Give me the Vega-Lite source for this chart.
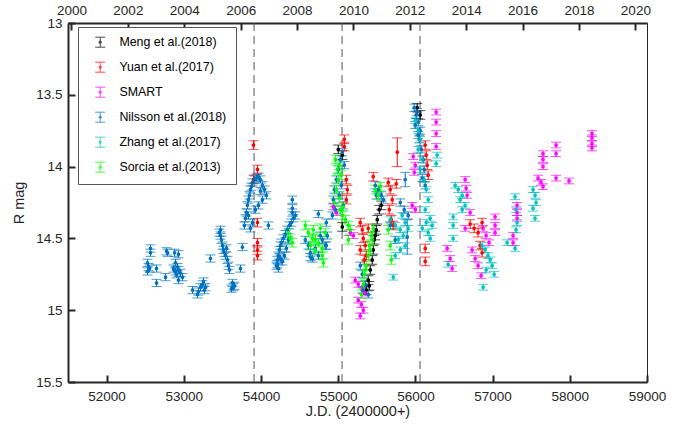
{
"$schema": "https://vega.github.io/schema/vega-lite/v6.json",
"width": 579,
"height": 359,
"autosize": {"type": "none"},
"padding": {"left": 68, "top": 23, "right": 47, "bottom": 47},
"background": "white",
"config": {
 "font": "Liberation Sans",
 "view": {"stroke": "#262626", "strokeWidth": 1},
 "axis": {"domainColor": "#262626", "domainWidth": 2, "tickColor": "#262626", "tickWidth": 2, "labelColor": "#262626", "titleColor": "#262626", "grid": false, "labelFontSize": 13.5, "titleFontSize": 14.5, "titleFontWeight": "normal", "labelFlush": false, "labelOverlap": false},
 "legend": {"title": null, "orient": "none", "legendX": 10, "legendY": 4, "symbolType": "M-1,-1H1M0,-1V1M-1,1H1M0.25,0A0.25,0.25,0,1,1,-0.25,0A0.25,0.25,0,1,1,0.25,0", "symbolSize": 100, "symbolStrokeWidth": 1, "labelFontSize": 12.4, "labelColor": "#000000", "strokeColor": "#555555", "fillColor": "#ffffff", "padding": 9, "rowPadding": 10, "labelOffset": 13, "symbolOffset": 7}
},
"datasets": {
 "vlines": [{"jd": 53910}, {"jd": 55050}, {"jd": 56060}],
 "obs": [
{"s":"Meng et al.(2018)","jd":55001,"m":13.88,"e":0.03},
{"s":"Meng et al.(2018)","jd":55053,"m":13.92,"e":0.03},
{"s":"Meng et al.(2018)","jd":55053,"m":14.42,"e":0.03},
{"s":"Meng et al.(2018)","jd":55363,"m":14.86,"e":0.03},
{"s":"Meng et al.(2018)","jd":55389,"m":14.79,"e":0.03},
{"s":"Meng et al.(2018)","jd":55415,"m":14.72,"e":0.03},
{"s":"Meng et al.(2018)","jd":55441,"m":14.65,"e":0.03},
{"s":"Meng et al.(2018)","jd":55454,"m":14.58,"e":0.03},
{"s":"Meng et al.(2018)","jd":55467,"m":14.51,"e":0.03},
{"s":"Meng et al.(2018)","jd":55493,"m":14.44,"e":0.03},
{"s":"Meng et al.(2018)","jd":55506,"m":14.37,"e":0.03},
{"s":"Meng et al.(2018)","jd":55532,"m":14.30,"e":0.03},
{"s":"Meng et al.(2018)","jd":55558,"m":14.27,"e":0.03},
{"s":"Meng et al.(2018)","jd":55402,"m":14.83,"e":0.03},
{"s":"Meng et al.(2018)","jd":55480,"m":14.48,"e":0.03},
{"s":"Meng et al.(2018)","jd":56023,"m":13.59,"e":0.03},
{"s":"Meng et al.(2018)","jd":56062,"m":13.64,"e":0.03},
{"s":"Yuan et al.(2017)","jd":53902,"m":13.85,"e":0.03},
{"s":"Yuan et al.(2017)","jd":53954,"m":14.02,"e":0.03},
{"s":"Yuan et al.(2017)","jd":53902,"m":14.09,"e":0.03},
{"s":"Yuan et al.(2017)","jd":53954,"m":14.39,"e":0.03},
{"s":"Yuan et al.(2017)","jd":53954,"m":14.53,"e":0.03},
{"s":"Yuan et al.(2017)","jd":53954,"m":14.58,"e":0.03},
{"s":"Yuan et al.(2017)","jd":53954,"m":14.62,"e":0.03},
{"s":"Yuan et al.(2017)","jd":55079,"m":13.81,"e":0.03},
{"s":"Yuan et al.(2017)","jd":55079,"m":13.86,"e":0.03},
{"s":"Yuan et al.(2017)","jd":55105,"m":14.09,"e":0.03},
{"s":"Yuan et al.(2017)","jd":55118,"m":14.16,"e":0.03},
{"s":"Yuan et al.(2017)","jd":55105,"m":14.23,"e":0.03},
{"s":"Yuan et al.(2017)","jd":55454,"m":14.07,"e":0.03},
{"s":"Yuan et al.(2017)","jd":55286,"m":14.39,"e":0.03},
{"s":"Yuan et al.(2017)","jd":55312,"m":14.44,"e":0.03},
{"s":"Yuan et al.(2017)","jd":55325,"m":14.50,"e":0.03},
{"s":"Yuan et al.(2017)","jd":55350,"m":14.55,"e":0.03},
{"s":"Yuan et al.(2017)","jd":55286,"m":14.58,"e":0.03},
{"s":"Yuan et al.(2017)","jd":55363,"m":14.62,"e":0.03},
{"s":"Yuan et al.(2017)","jd":55338,"m":14.65,"e":0.03},
{"s":"Yuan et al.(2017)","jd":55389,"m":14.43,"e":0.03},
{"s":"Yuan et al.(2017)","jd":55648,"m":14.11,"e":0.03},
{"s":"Yuan et al.(2017)","jd":55674,"m":14.16,"e":0.03},
{"s":"Yuan et al.(2017)","jd":55700,"m":14.23,"e":0.03},
{"s":"Yuan et al.(2017)","jd":55661,"m":14.30,"e":0.03},
{"s":"Yuan et al.(2017)","jd":55687,"m":14.37,"e":0.03},
{"s":"Yuan et al.(2017)","jd":55713,"m":14.41,"e":0.03},
{"s":"Yuan et al.(2017)","jd":55752,"m":14.12,"e":0.03},
{"s":"Yuan et al.(2017)","jd":55765,"m":13.90,"e":0.1},
{"s":"Yuan et al.(2017)","jd":56127,"m":13.85,"e":0.03},
{"s":"Yuan et al.(2017)","jd":56140,"m":13.92,"e":0.03},
{"s":"Yuan et al.(2017)","jd":56153,"m":13.99,"e":0.03},
{"s":"Yuan et al.(2017)","jd":56166,"m":14.06,"e":0.03},
{"s":"Yuan et al.(2017)","jd":56127,"m":14.57,"e":0.03},
{"s":"Yuan et al.(2017)","jd":56127,"m":14.66,"e":0.03},
{"s":"Yuan et al.(2017)","jd":56709,"m":14.40,"e":0.03},
{"s":"Yuan et al.(2017)","jd":56761,"m":14.43,"e":0.03},
{"s":"Yuan et al.(2017)","jd":56812,"m":14.46,"e":0.03},
{"s":"Yuan et al.(2017)","jd":56864,"m":14.39,"e":0.03},
{"s":"Yuan et al.(2017)","jd":56838,"m":14.55,"e":0.03},
{"s":"Yuan et al.(2017)","jd":56864,"m":14.60,"e":0.03},
{"s":"SMART","jd":54937,"m":14.28,"e":0.02},
{"s":"SMART","jd":54976,"m":14.32,"e":0.02},
{"s":"SMART","jd":55157,"m":14.46,"e":0.02},
{"s":"SMART","jd":55196,"m":14.48,"e":0.02},
{"s":"SMART","jd":55221,"m":14.79,"e":0.02},
{"s":"SMART","jd":55260,"m":14.82,"e":0.02},
{"s":"SMART","jd":55312,"m":14.86,"e":0.02},
{"s":"SMART","jd":55350,"m":14.88,"e":0.02},
{"s":"SMART","jd":55260,"m":14.93,"e":0.02},
{"s":"SMART","jd":55299,"m":14.96,"e":0.02},
{"s":"SMART","jd":55325,"m":15.00,"e":0.02},
{"s":"SMART","jd":55286,"m":15.04,"e":0.02},
{"s":"SMART","jd":55959,"m":14.27,"e":0.02},
{"s":"SMART","jd":55998,"m":14.30,"e":0.02},
{"s":"SMART","jd":55972,"m":13.93,"e":0.02},
{"s":"SMART","jd":55998,"m":13.99,"e":0.02},
{"s":"SMART","jd":55985,"m":14.04,"e":0.02},
{"s":"SMART","jd":56269,"m":13.62,"e":0.02},
{"s":"SMART","jd":56269,"m":13.69,"e":0.02},
{"s":"SMART","jd":56269,"m":13.77,"e":0.02},
{"s":"SMART","jd":56269,"m":13.86,"e":0.02},
{"s":"SMART","jd":56644,"m":14.09,"e":0.02},
{"s":"SMART","jd":56657,"m":14.15,"e":0.02},
{"s":"SMART","jd":56670,"m":14.20,"e":0.02},
{"s":"SMART","jd":56709,"m":14.32,"e":0.02},
{"s":"SMART","jd":56411,"m":14.57,"e":0.02},
{"s":"SMART","jd":56450,"m":14.64,"e":0.02},
{"s":"SMART","jd":56476,"m":14.71,"e":0.02},
{"s":"SMART","jd":56644,"m":14.43,"e":0.02},
{"s":"SMART","jd":56877,"m":14.43,"e":0.02},
{"s":"SMART","jd":56916,"m":14.48,"e":0.02},
{"s":"SMART","jd":56954,"m":14.53,"e":0.02},
{"s":"SMART","jd":57032,"m":14.35,"e":0.02},
{"s":"SMART","jd":57032,"m":14.41,"e":0.02},
{"s":"SMART","jd":57032,"m":14.46,"e":0.02},
{"s":"SMART","jd":56735,"m":14.58,"e":0.02},
{"s":"SMART","jd":56774,"m":14.64,"e":0.02},
{"s":"SMART","jd":56812,"m":14.69,"e":0.02},
{"s":"SMART","jd":56851,"m":14.76,"e":0.02},
{"s":"SMART","jd":57317,"m":14.27,"e":0.02},
{"s":"SMART","jd":57317,"m":14.32,"e":0.02},
{"s":"SMART","jd":57317,"m":14.36,"e":0.02},
{"s":"SMART","jd":57265,"m":14.48,"e":0.02},
{"s":"SMART","jd":57265,"m":14.53,"e":0.02},
{"s":"SMART","jd":57589,"m":14.08,"e":0.02},
{"s":"SMART","jd":57627,"m":14.11,"e":0.02},
{"s":"SMART","jd":57653,"m":14.14,"e":0.02},
{"s":"SMART","jd":57653,"m":13.91,"e":0.02},
{"s":"SMART","jd":57653,"m":13.95,"e":0.02},
{"s":"SMART","jd":57653,"m":14.00,"e":0.02},
{"s":"SMART","jd":57822,"m":13.85,"e":0.02},
{"s":"SMART","jd":57822,"m":13.91,"e":0.02},
{"s":"SMART","jd":57822,"m":14.08,"e":0.02},
{"s":"SMART","jd":57990,"m":14.10,"e":0.02},
{"s":"SMART","jd":58287,"m":13.77,"e":0.02},
{"s":"SMART","jd":58287,"m":13.80,"e":0.02},
{"s":"SMART","jd":58287,"m":13.84,"e":0.02},
{"s":"SMART","jd":58287,"m":13.87,"e":0.02},
{"s":"Nilsson et al.(2018)","jd":52530,"m":14.67,"e":0.025},
{"s":"Nilsson et al.(2018)","jd":52543,"m":14.70,"e":0.025},
{"s":"Nilsson et al.(2018)","jd":52530,"m":14.73,"e":0.025},
{"s":"Nilsson et al.(2018)","jd":52556,"m":14.71,"e":0.025},
{"s":"Nilsson et al.(2018)","jd":52569,"m":14.57,"e":0.025},
{"s":"Nilsson et al.(2018)","jd":52569,"m":14.60,"e":0.025},
{"s":"Nilsson et al.(2018)","jd":52647,"m":14.71,"e":0.025},
{"s":"Nilsson et al.(2018)","jd":52647,"m":14.81,"e":0.025},
{"s":"Nilsson et al.(2018)","jd":52763,"m":14.77,"e":0.025},
{"s":"Nilsson et al.(2018)","jd":52776,"m":14.59,"e":0.025},
{"s":"Nilsson et al.(2018)","jd":52790,"m":14.60,"e":0.025},
{"s":"Nilsson et al.(2018)","jd":52880,"m":14.60,"e":0.025},
{"s":"Nilsson et al.(2018)","jd":52931,"m":14.61,"e":0.025},
{"s":"Nilsson et al.(2018)","jd":52893,"m":14.67,"e":0.025},
{"s":"Nilsson et al.(2018)","jd":52919,"m":14.70,"e":0.025},
{"s":"Nilsson et al.(2018)","jd":52931,"m":14.72,"e":0.025},
{"s":"Nilsson et al.(2018)","jd":52893,"m":14.73,"e":0.025},
{"s":"Nilsson et al.(2018)","jd":52957,"m":14.74,"e":0.025},
{"s":"Nilsson et al.(2018)","jd":52983,"m":14.77,"e":0.025},
{"s":"Nilsson et al.(2018)","jd":52931,"m":14.79,"e":0.025},
{"s":"Nilsson et al.(2018)","jd":52867,"m":14.71,"e":0.025},
{"s":"Nilsson et al.(2018)","jd":52905,"m":14.75,"e":0.025},
{"s":"Nilsson et al.(2018)","jd":53113,"m":14.86,"e":0.025},
{"s":"Nilsson et al.(2018)","jd":53255,"m":14.80,"e":0.025},
{"s":"Nilsson et al.(2018)","jd":53242,"m":14.82,"e":0.025},
{"s":"Nilsson et al.(2018)","jd":53216,"m":14.84,"e":0.025},
{"s":"Nilsson et al.(2018)","jd":53190,"m":14.87,"e":0.025},
{"s":"Nilsson et al.(2018)","jd":53177,"m":14.89,"e":0.025},
{"s":"Nilsson et al.(2018)","jd":53281,"m":14.84,"e":0.025},
{"s":"Nilsson et al.(2018)","jd":53268,"m":14.86,"e":0.025},
{"s":"Nilsson et al.(2018)","jd":53345,"m":14.64,"e":0.025},
{"s":"Nilsson et al.(2018)","jd":53475,"m":14.44,"e":0.025},
{"s":"Nilsson et al.(2018)","jd":53462,"m":14.46,"e":0.025},
{"s":"Nilsson et al.(2018)","jd":53475,"m":14.48,"e":0.025},
{"s":"Nilsson et al.(2018)","jd":53488,"m":14.51,"e":0.025},
{"s":"Nilsson et al.(2018)","jd":53501,"m":14.55,"e":0.025},
{"s":"Nilsson et al.(2018)","jd":53514,"m":14.58,"e":0.025},
{"s":"Nilsson et al.(2018)","jd":53540,"m":14.62,"e":0.025},
{"s":"Nilsson et al.(2018)","jd":53565,"m":14.65,"e":0.025},
{"s":"Nilsson et al.(2018)","jd":53578,"m":14.69,"e":0.025},
{"s":"Nilsson et al.(2018)","jd":53591,"m":14.72,"e":0.025},
{"s":"Nilsson et al.(2018)","jd":53553,"m":14.57,"e":0.025},
{"s":"Nilsson et al.(2018)","jd":53527,"m":14.60,"e":0.025},
{"s":"Nilsson et al.(2018)","jd":53630,"m":14.81,"e":0.025},
{"s":"Nilsson et al.(2018)","jd":53643,"m":14.84,"e":0.025},
{"s":"Nilsson et al.(2018)","jd":53617,"m":14.85,"e":0.025},
{"s":"Nilsson et al.(2018)","jd":53656,"m":14.83,"e":0.025},
{"s":"Nilsson et al.(2018)","jd":53759,"m":14.56,"e":0.025},
{"s":"Nilsson et al.(2018)","jd":53734,"m":14.71,"e":0.025},
{"s":"Nilsson et al.(2018)","jd":53785,"m":14.41,"e":0.025},
{"s":"Nilsson et al.(2018)","jd":53798,"m":14.36,"e":0.025},
{"s":"Nilsson et al.(2018)","jd":53811,"m":14.32,"e":0.025},
{"s":"Nilsson et al.(2018)","jd":53824,"m":14.27,"e":0.025},
{"s":"Nilsson et al.(2018)","jd":53837,"m":14.23,"e":0.025},
{"s":"Nilsson et al.(2018)","jd":53850,"m":14.20,"e":0.025},
{"s":"Nilsson et al.(2018)","jd":53863,"m":14.16,"e":0.025},
{"s":"Nilsson et al.(2018)","jd":53876,"m":14.14,"e":0.025},
{"s":"Nilsson et al.(2018)","jd":53889,"m":14.11,"e":0.025},
{"s":"Nilsson et al.(2018)","jd":53863,"m":14.43,"e":0.025},
{"s":"Nilsson et al.(2018)","jd":53889,"m":14.39,"e":0.025},
{"s":"Nilsson et al.(2018)","jd":53837,"m":14.34,"e":0.025},
{"s":"Nilsson et al.(2018)","jd":53915,"m":14.09,"e":0.025},
{"s":"Nilsson et al.(2018)","jd":53941,"m":14.08,"e":0.025},
{"s":"Nilsson et al.(2018)","jd":53966,"m":14.07,"e":0.025},
{"s":"Nilsson et al.(2018)","jd":53992,"m":14.09,"e":0.025},
{"s":"Nilsson et al.(2018)","jd":54018,"m":14.13,"e":0.025},
{"s":"Nilsson et al.(2018)","jd":54044,"m":14.16,"e":0.025},
{"s":"Nilsson et al.(2018)","jd":54070,"m":14.20,"e":0.025},
{"s":"Nilsson et al.(2018)","jd":54018,"m":14.23,"e":0.025},
{"s":"Nilsson et al.(2018)","jd":53966,"m":14.27,"e":0.025},
{"s":"Nilsson et al.(2018)","jd":53928,"m":14.30,"e":0.025},
{"s":"Nilsson et al.(2018)","jd":53992,"m":14.17,"e":0.025},
{"s":"Nilsson et al.(2018)","jd":54096,"m":14.41,"e":0.025},
{"s":"Nilsson et al.(2018)","jd":54199,"m":14.69,"e":0.025},
{"s":"Nilsson et al.(2018)","jd":54212,"m":14.65,"e":0.025},
{"s":"Nilsson et al.(2018)","jd":54225,"m":14.62,"e":0.025},
{"s":"Nilsson et al.(2018)","jd":54238,"m":14.58,"e":0.025},
{"s":"Nilsson et al.(2018)","jd":54251,"m":14.55,"e":0.025},
{"s":"Nilsson et al.(2018)","jd":54264,"m":14.53,"e":0.025},
{"s":"Nilsson et al.(2018)","jd":54290,"m":14.50,"e":0.025},
{"s":"Nilsson et al.(2018)","jd":54316,"m":14.47,"e":0.025},
{"s":"Nilsson et al.(2018)","jd":54342,"m":14.44,"e":0.025},
{"s":"Nilsson et al.(2018)","jd":54367,"m":14.41,"e":0.025},
{"s":"Nilsson et al.(2018)","jd":54393,"m":14.39,"e":0.025},
{"s":"Nilsson et al.(2018)","jd":54419,"m":14.36,"e":0.025},
{"s":"Nilsson et al.(2018)","jd":54445,"m":14.34,"e":0.025},
{"s":"Nilsson et al.(2018)","jd":54277,"m":14.66,"e":0.025},
{"s":"Nilsson et al.(2018)","jd":54303,"m":14.62,"e":0.025},
{"s":"Nilsson et al.(2018)","jd":54329,"m":14.57,"e":0.025},
{"s":"Nilsson et al.(2018)","jd":54355,"m":14.51,"e":0.025},
{"s":"Nilsson et al.(2018)","jd":54225,"m":14.71,"e":0.025},
{"s":"Nilsson et al.(2018)","jd":54251,"m":14.64,"e":0.025},
{"s":"Nilsson et al.(2018)","jd":54212,"m":14.68,"e":0.025},
{"s":"Nilsson et al.(2018)","jd":54406,"m":14.23,"e":0.025},
{"s":"Nilsson et al.(2018)","jd":54406,"m":14.29,"e":0.025},
{"s":"Nilsson et al.(2018)","jd":54406,"m":14.32,"e":0.025},
{"s":"Nilsson et al.(2018)","jd":54574,"m":14.51,"e":0.025},
{"s":"Nilsson et al.(2018)","jd":54639,"m":14.60,"e":0.025},
{"s":"Nilsson et al.(2018)","jd":54665,"m":14.64,"e":0.025},
{"s":"Nilsson et al.(2018)","jd":54743,"m":14.62,"e":0.025},
{"s":"Nilsson et al.(2018)","jd":54833,"m":14.55,"e":0.025},
{"s":"Nilsson et al.(2018)","jd":54768,"m":14.48,"e":0.025},
{"s":"Nilsson et al.(2018)","jd":54743,"m":14.33,"e":0.025},
{"s":"Nilsson et al.(2018)","jd":54639,"m":14.63,"e":0.025},
{"s":"Nilsson et al.(2018)","jd":54613,"m":14.55,"e":0.025},
{"s":"Nilsson et al.(2018)","jd":54704,"m":14.57,"e":0.025},
{"s":"Nilsson et al.(2018)","jd":54794,"m":14.51,"e":0.025},
{"s":"Nilsson et al.(2018)","jd":54846,"m":14.39,"e":0.025},
{"s":"Nilsson et al.(2018)","jd":54859,"m":14.48,"e":0.025},
{"s":"Nilsson et al.(2018)","jd":54846,"m":14.55,"e":0.025},
{"s":"Nilsson et al.(2018)","jd":54937,"m":14.23,"e":0.025},
{"s":"Nilsson et al.(2018)","jd":54950,"m":14.16,"e":0.025},
{"s":"Nilsson et al.(2018)","jd":54976,"m":14.09,"e":0.025},
{"s":"Nilsson et al.(2018)","jd":55001,"m":14.02,"e":0.025},
{"s":"Nilsson et al.(2018)","jd":55027,"m":13.95,"e":0.025},
{"s":"Nilsson et al.(2018)","jd":55053,"m":13.90,"e":0.025},
{"s":"Nilsson et al.(2018)","jd":55079,"m":13.99,"e":0.025},
{"s":"Nilsson et al.(2018)","jd":55040,"m":14.13,"e":0.025},
{"s":"Nilsson et al.(2018)","jd":55014,"m":14.20,"e":0.025},
{"s":"Nilsson et al.(2018)","jd":55066,"m":14.27,"e":0.025},
{"s":"Nilsson et al.(2018)","jd":54963,"m":14.30,"e":0.025},
{"s":"Nilsson et al.(2018)","jd":54924,"m":14.34,"e":0.025},
{"s":"Nilsson et al.(2018)","jd":55286,"m":14.69,"e":0.025},
{"s":"Nilsson et al.(2018)","jd":55312,"m":14.75,"e":0.025},
{"s":"Nilsson et al.(2018)","jd":55350,"m":14.82,"e":0.025},
{"s":"Nilsson et al.(2018)","jd":55389,"m":14.89,"e":0.025},
{"s":"Nilsson et al.(2018)","jd":55325,"m":14.86,"e":0.025},
{"s":"Nilsson et al.(2018)","jd":55480,"m":14.13,"e":0.025},
{"s":"Nilsson et al.(2018)","jd":55519,"m":14.16,"e":0.025},
{"s":"Nilsson et al.(2018)","jd":55558,"m":14.20,"e":0.025},
{"s":"Nilsson et al.(2018)","jd":55583,"m":14.23,"e":0.025},
{"s":"Nilsson et al.(2018)","jd":55493,"m":14.20,"e":0.025},
{"s":"Nilsson et al.(2018)","jd":55868,"m":14.09,"e":0.05},
{"s":"Nilsson et al.(2018)","jd":55804,"m":14.25,"e":0.025},
{"s":"Nilsson et al.(2018)","jd":55855,"m":14.30,"e":0.025},
{"s":"Nilsson et al.(2018)","jd":55907,"m":14.34,"e":0.025},
{"s":"Nilsson et al.(2018)","jd":55894,"m":14.49,"e":0.12},
{"s":"Nilsson et al.(2018)","jd":55674,"m":14.41,"e":0.025},
{"s":"Nilsson et al.(2018)","jd":55739,"m":14.51,"e":0.025},
{"s":"Nilsson et al.(2018)","jd":55985,"m":13.59,"e":0.025},
{"s":"Nilsson et al.(2018)","jd":56010,"m":13.64,"e":0.025},
{"s":"Nilsson et al.(2018)","jd":56036,"m":13.69,"e":0.025},
{"s":"Nilsson et al.(2018)","jd":56062,"m":13.75,"e":0.025},
{"s":"Nilsson et al.(2018)","jd":56049,"m":13.81,"e":0.025},
{"s":"Nilsson et al.(2018)","jd":56075,"m":13.88,"e":0.025},
{"s":"Nilsson et al.(2018)","jd":56101,"m":13.95,"e":0.025},
{"s":"Nilsson et al.(2018)","jd":56114,"m":14.02,"e":0.025},
{"s":"Nilsson et al.(2018)","jd":56088,"m":14.08,"e":0.025},
{"s":"Nilsson et al.(2018)","jd":56023,"m":13.62,"e":0.025},
{"s":"Nilsson et al.(2018)","jd":55998,"m":13.71,"e":0.025},
{"s":"Nilsson et al.(2018)","jd":56036,"m":13.78,"e":0.025},
{"s":"Nilsson et al.(2018)","jd":56127,"m":14.13,"e":0.025},
{"s":"Zhang et al.(2017)","jd":55998,"m":13.68,"e":0.02},
{"s":"Zhang et al.(2017)","jd":56036,"m":13.75,"e":0.02},
{"s":"Zhang et al.(2017)","jd":56062,"m":13.81,"e":0.02},
{"s":"Zhang et al.(2017)","jd":56036,"m":13.88,"e":0.02},
{"s":"Zhang et al.(2017)","jd":56088,"m":13.95,"e":0.02},
{"s":"Zhang et al.(2017)","jd":56062,"m":14.02,"e":0.02},
{"s":"Zhang et al.(2017)","jd":56114,"m":14.09,"e":0.02},
{"s":"Zhang et al.(2017)","jd":56140,"m":14.16,"e":0.02},
{"s":"Zhang et al.(2017)","jd":56166,"m":14.23,"e":0.02},
{"s":"Zhang et al.(2017)","jd":56127,"m":14.30,"e":0.02},
{"s":"Zhang et al.(2017)","jd":56192,"m":14.36,"e":0.02},
{"s":"Zhang et al.(2017)","jd":56217,"m":14.41,"e":0.02},
{"s":"Zhang et al.(2017)","jd":56166,"m":14.46,"e":0.02},
{"s":"Zhang et al.(2017)","jd":56192,"m":14.50,"e":0.02},
{"s":"Zhang et al.(2017)","jd":56140,"m":14.39,"e":0.02},
{"s":"Zhang et al.(2017)","jd":56088,"m":14.43,"e":0.02},
{"s":"Zhang et al.(2017)","jd":56282,"m":13.92,"e":0.02},
{"s":"Zhang et al.(2017)","jd":56269,"m":13.98,"e":0.02},
{"s":"Zhang et al.(2017)","jd":55674,"m":14.37,"e":0.02},
{"s":"Zhang et al.(2017)","jd":55739,"m":14.41,"e":0.02},
{"s":"Zhang et al.(2017)","jd":55804,"m":14.44,"e":0.02},
{"s":"Zhang et al.(2017)","jd":55842,"m":14.48,"e":0.02},
{"s":"Zhang et al.(2017)","jd":55778,"m":14.51,"e":0.02},
{"s":"Zhang et al.(2017)","jd":55868,"m":14.55,"e":0.02},
{"s":"Zhang et al.(2017)","jd":55804,"m":14.58,"e":0.02},
{"s":"Zhang et al.(2017)","jd":55739,"m":14.62,"e":0.02},
{"s":"Zhang et al.(2017)","jd":55713,"m":14.77,"e":0.02},
{"s":"Zhang et al.(2017)","jd":55868,"m":14.39,"e":0.02},
{"s":"Zhang et al.(2017)","jd":55907,"m":14.43,"e":0.02},
{"s":"Zhang et al.(2017)","jd":55829,"m":14.34,"e":0.02},
{"s":"Zhang et al.(2017)","jd":56515,"m":14.13,"e":0.02},
{"s":"Zhang et al.(2017)","jd":56554,"m":14.16,"e":0.02},
{"s":"Zhang et al.(2017)","jd":56606,"m":14.20,"e":0.02},
{"s":"Zhang et al.(2017)","jd":56580,"m":14.23,"e":0.02},
{"s":"Zhang et al.(2017)","jd":56644,"m":14.27,"e":0.02},
{"s":"Zhang et al.(2017)","jd":56606,"m":14.30,"e":0.02},
{"s":"Zhang et al.(2017)","jd":56489,"m":14.35,"e":0.02},
{"s":"Zhang et al.(2017)","jd":56489,"m":14.41,"e":0.02},
{"s":"Zhang et al.(2017)","jd":56489,"m":14.50,"e":0.02},
{"s":"Zhang et al.(2017)","jd":56424,"m":14.68,"e":0.02},
{"s":"Zhang et al.(2017)","jd":56864,"m":14.55,"e":0.02},
{"s":"Zhang et al.(2017)","jd":56903,"m":14.58,"e":0.02},
{"s":"Zhang et al.(2017)","jd":56941,"m":14.62,"e":0.02},
{"s":"Zhang et al.(2017)","jd":56968,"m":14.65,"e":0.02},
{"s":"Zhang et al.(2017)","jd":56994,"m":14.69,"e":0.02},
{"s":"Zhang et al.(2017)","jd":56916,"m":14.72,"e":0.02},
{"s":"Zhang et al.(2017)","jd":57020,"m":14.75,"e":0.02},
{"s":"Zhang et al.(2017)","jd":56877,"m":14.84,"e":0.02},
{"s":"Zhang et al.(2017)","jd":57188,"m":14.53,"e":0.02},
{"s":"Zhang et al.(2017)","jd":57291,"m":14.21,"e":0.02},
{"s":"Zhang et al.(2017)","jd":57304,"m":14.30,"e":0.02},
{"s":"Zhang et al.(2017)","jd":57317,"m":14.39,"e":0.02},
{"s":"Zhang et al.(2017)","jd":57304,"m":14.44,"e":0.02},
{"s":"Zhang et al.(2017)","jd":57291,"m":14.57,"e":0.02},
{"s":"Zhang et al.(2017)","jd":57524,"m":14.16,"e":0.02},
{"s":"Zhang et al.(2017)","jd":57550,"m":14.20,"e":0.02},
{"s":"Zhang et al.(2017)","jd":57563,"m":14.25,"e":0.02},
{"s":"Zhang et al.(2017)","jd":57524,"m":14.29,"e":0.02},
{"s":"Zhang et al.(2017)","jd":57550,"m":14.36,"e":0.02},
{"s":"Sorcia et al.(2013)","jd":54355,"m":14.46,"e":0.03},
{"s":"Sorcia et al.(2013)","jd":54380,"m":14.50,"e":0.03},
{"s":"Sorcia et al.(2013)","jd":54406,"m":14.53,"e":0.03},
{"s":"Sorcia et al.(2013)","jd":54574,"m":14.41,"e":0.03},
{"s":"Sorcia et al.(2013)","jd":54613,"m":14.46,"e":0.03},
{"s":"Sorcia et al.(2013)","jd":54665,"m":14.50,"e":0.03},
{"s":"Sorcia et al.(2013)","jd":54743,"m":14.53,"e":0.03},
{"s":"Sorcia et al.(2013)","jd":54794,"m":14.57,"e":0.03},
{"s":"Sorcia et al.(2013)","jd":54704,"m":14.58,"e":0.03},
{"s":"Sorcia et al.(2013)","jd":54639,"m":14.55,"e":0.03},
{"s":"Sorcia et al.(2013)","jd":54833,"m":14.46,"e":0.03},
{"s":"Sorcia et al.(2013)","jd":54768,"m":14.43,"e":0.03},
{"s":"Sorcia et al.(2013)","jd":54704,"m":14.51,"e":0.03},
{"s":"Sorcia et al.(2013)","jd":54794,"m":14.62,"e":0.03},
{"s":"Sorcia et al.(2013)","jd":54807,"m":14.67,"e":0.03},
{"s":"Sorcia et al.(2013)","jd":54678,"m":14.44,"e":0.03},
{"s":"Sorcia et al.(2013)","jd":54963,"m":13.95,"e":0.03},
{"s":"Sorcia et al.(2013)","jd":54989,"m":14.02,"e":0.03},
{"s":"Sorcia et al.(2013)","jd":55001,"m":14.09,"e":0.03},
{"s":"Sorcia et al.(2013)","jd":54976,"m":14.16,"e":0.03},
{"s":"Sorcia et al.(2013)","jd":55014,"m":14.22,"e":0.03},
{"s":"Sorcia et al.(2013)","jd":54950,"m":14.25,"e":0.03},
{"s":"Sorcia et al.(2013)","jd":55027,"m":14.30,"e":0.03},
{"s":"Sorcia et al.(2013)","jd":55053,"m":14.34,"e":0.03},
{"s":"Sorcia et al.(2013)","jd":55092,"m":14.37,"e":0.03},
{"s":"Sorcia et al.(2013)","jd":55131,"m":14.41,"e":0.03},
{"s":"Sorcia et al.(2013)","jd":55157,"m":14.44,"e":0.03},
{"s":"Sorcia et al.(2013)","jd":55131,"m":14.51,"e":0.03},
{"s":"Sorcia et al.(2013)","jd":55066,"m":14.28,"e":0.03},
{"s":"Sorcia et al.(2013)","jd":55014,"m":13.99,"e":0.03},
{"s":"Sorcia et al.(2013)","jd":55040,"m":14.06,"e":0.03},
{"s":"Sorcia et al.(2013)","jd":55299,"m":14.89,"e":0.03},
{"s":"Sorcia et al.(2013)","jd":55325,"m":14.82,"e":0.03},
{"s":"Sorcia et al.(2013)","jd":55338,"m":14.75,"e":0.03},
{"s":"Sorcia et al.(2013)","jd":55363,"m":14.69,"e":0.03},
{"s":"Sorcia et al.(2013)","jd":55389,"m":14.62,"e":0.03},
{"s":"Sorcia et al.(2013)","jd":55402,"m":14.55,"e":0.03},
{"s":"Sorcia et al.(2013)","jd":55428,"m":14.48,"e":0.03},
{"s":"Sorcia et al.(2013)","jd":55454,"m":14.43,"e":0.03},
{"s":"Sorcia et al.(2013)","jd":55441,"m":14.51,"e":0.03},
{"s":"Sorcia et al.(2013)","jd":55415,"m":14.58,"e":0.03},
{"s":"Sorcia et al.(2013)","jd":55350,"m":14.72,"e":0.03},
{"s":"Sorcia et al.(2013)","jd":55480,"m":14.16,"e":0.03},
{"s":"Sorcia et al.(2013)","jd":55519,"m":14.20,"e":0.03},
{"s":"Sorcia et al.(2013)","jd":55545,"m":14.14,"e":0.03},
{"s":"Sorcia et al.(2013)","jd":55648,"m":14.44,"e":0.03},
{"s":"Sorcia et al.(2013)","jd":55674,"m":14.55,"e":0.03},
{"s":"Sorcia et al.(2013)","jd":55687,"m":14.65,"e":0.03}
 ]
},
"layer": [
 {
  "data": {"name": "vlines"},
  "mark": {"type": "rule", "color": "#555555", "strokeWidth": 1, "strokeDash": [8, 5]},
  "encoding": {
   "x": {"field": "jd", "type": "quantitative",
    "scale": {"domain": [51500, 59000], "nice": false, "zero": false},
    "axis": {"orient": "top", "title": null, "values": [51544.5, 52275.5, 53005.5, 53736.5, 54466.5, 55197.5, 55927.5, 56658.5, 57388.5, 58119.5, 58849.5],
     "labelExpr": "'' + round(2000 + (datum.value - 51544.5) / 365.25)", "tickSize": -7, "labelPadding": 13}
   }
  }
 },
 {
  "data": {"name": "obs"},
  "mark": {"type": "errorbar", "ticks": {"size": 10}, "thickness": 1},
  "encoding": {
   "x": {"field": "jd", "type": "quantitative",
    "scale": {"domain": [51500, 59000], "nice": false, "zero": false},
    "axis": {"orient": "bottom", "title": "J.D. (2400000+)", "values": [52000, 53000, 54000, 55000, 56000, 57000, 58000, 59000], "format": "d", "tickSize": -7, "labelPadding": 14, "titlePadding": 2}
   },
   "y": {"field": "m", "type": "quantitative",
    "scale": {"domain": [13, 15.5], "reverse": true, "nice": false, "zero": false},
    "axis": {"title": "R mag", "values": [13, 13.5, 14, 14.5, 15, 15.5], "labelExpr": "'' + datum.value", "tickSize": -7, "labelPadding": 13, "titlePadding": 9}
   },
   "yError": {"field": "e"},
   "color": {"field": "s", "type": "nominal",
    "scale": {"domain": ["Meng et al.(2018)", "Yuan et al.(2017)", "SMART", "Nilsson et al.(2018)", "Zhang et al.(2017)", "Sorcia et al.(2013)"], "range": ["#000000", "#ff0000", "#ff00ff", "#0072bd", "#00bfbf", "#00ff00"]}}
  }
 },
 {
  "data": {"name": "obs"},
  "mark": {"type": "point", "filled": false, "size": 5, "strokeWidth": 1.5, "opacity": 1},
  "encoding": {
   "x": {"field": "jd", "type": "quantitative", "axis": null},
   "y": {"field": "m", "type": "quantitative"},
   "color": {"field": "s", "type": "nominal"}
  }
 }
],
"resolve": {"axis": {"x": "independent"}}
}
